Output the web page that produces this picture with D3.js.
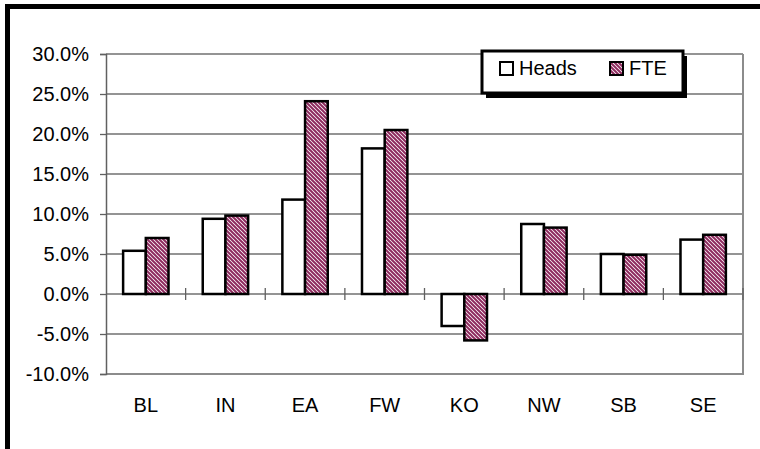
<!DOCTYPE html>
<html><head><meta charset="utf-8">
<script src="https://cdn.jsdelivr.net/npm/d3@7"></script>
<style>html,body{margin:0;padding:0;background:#fff;}svg{display:block;}</style>
</head><body>
<script>
const categories = ["BL","IN","EA","FW","KO","NW","SB","SE"];
const headsValues = [0.054, 0.094, 0.118, 0.182, -0.040, 0.0875, 0.050, 0.068];
const fteValues   = [0.070, 0.098, 0.241, 0.205, -0.058, 0.083, 0.049, 0.074];
const seriesNames = ["Heads","FTE"];
const yTickValues = [-0.10,-0.05,0,0.05,0.10,0.15,0.20,0.25,0.30];

const W = 760, H = 449;
const svg = d3.select("body").append("svg").attr("width", W).attr("height", H);
const font = "'Liberation Sans', Arial, sans-serif";

const defs = svg.append("defs");
const pat = defs.append("pattern").attr("id","hatch").attr("patternUnits","userSpaceOnUse")
  .attr("width",4).attr("height",4);
pat.append("rect").attr("width",4).attr("height",4).attr("fill","#fff");
pat.append("path").attr("d","M-1,-1 L5,5 M-1,3 L1,5 M3,-1 L5,1")
  .attr("stroke","#8e2a5e").attr("stroke-width",2);

const x = d3.scaleBand().domain(categories).range([106, 743]).padding(0);
const y = d3.scaleLinear().domain([-0.10, 0.30]).range([374, 54]);
const bw = x.bandwidth() * 0.285;

// gridlines
svg.append("g").selectAll("line").data(yTickValues).join("line")
  .attr("x1", 106).attr("x2", 743)
  .attr("y1", d => y(d)).attr("y2", d => y(d))
  .attr("stroke", "#707070").attr("stroke-width", 1.3);

// plot border right/bottom
svg.append("path").attr("d", `M${743},${y(0.30)} V${y(-0.10)} H106`)
  .attr("fill","none").attr("stroke","#8c8c8c").attr("stroke-width",2);

// y axis
const yAxis = d3.axisLeft(y).tickValues(yTickValues).tickSize(6).tickPadding(11)
  .tickFormat(d => (Math.round(d*1000)/10).toFixed(1) + "%");
const gy = svg.append("g").attr("transform","translate(106,0)").call(yAxis);
gy.select(".domain").attr("stroke","#606060").attr("stroke-width",1.5);
gy.selectAll(".tick line").attr("stroke","#606060").attr("stroke-width",1.3);
gy.selectAll("text").attr("font-family", font).attr("font-size", 20).attr("fill","#000");

// bars
const data = categories.map((c,i) => ({c, h: headsValues[i], f: fteValues[i]}));
const gb = svg.append("g");
data.forEach(d => {
  const cx = x(d.c) + x.bandwidth()/2;
  [[d.h, "#fff", cx - bw], [d.f, "url(#hatch)", cx]].forEach(([v, fill, x0]) => {
    gb.append("rect")
      .attr("x", x0).attr("width", bw)
      .attr("y", Math.min(y(v), y(0))).attr("height", Math.abs(y(v) - y(0)))
      .attr("fill", fill).attr("stroke", "#000").attr("stroke-width", 2.5);
  });
});

// x axis ticks (cross) on zero line
const boundaries = categories.map(c => x(c)).concat([x.range()[1]]);
svg.append("g").selectAll("line").data(boundaries.slice(1)).join("line")
  .attr("x1", d => d).attr("x2", d => d)
  .attr("y1", y(0) - 6).attr("y2", y(0) + 6)
  .attr("stroke","#606060").attr("stroke-width",1.3);

// category labels
svg.append("g").selectAll("text").data(categories).join("text")
  .attr("x", d => x(d) + x.bandwidth()/2).attr("y", 411.5)
  .attr("text-anchor","middle").attr("font-family", font).attr("font-size", 20)
  .text(d => d);

// legend
const lg = svg.append("g");
lg.append("rect").attr("x", 486).attr("y", 56).attr("width", 201).attr("height", 42).attr("fill","#000");
lg.append("rect").attr("x", 482).attr("y", 51).attr("width", 201).attr("height", 42)
  .attr("fill","#fff").attr("stroke","#000").attr("stroke-width",3);
const legX = [500, 610];
const legFill = ["#fff", "url(#hatch)"];
seriesNames.forEach((n,i) => {
  lg.append("rect").attr("x", legX[i]).attr("y", 62).attr("width", 13).attr("height", 13)
    .attr("fill", legFill[i]).attr("stroke","#000").attr("stroke-width",2);
  lg.append("text").attr("x", legX[i] + 19).attr("y", 75)
    .attr("font-family", font).attr("font-size", 20).text(n);
});

// outer frame (top and left thick black)
svg.append("line").attr("x1",5).attr("x2",760).attr("y1",6.5).attr("y2",6.5)
  .attr("stroke","#000").attr("stroke-width",5);
svg.append("line").attr("x1",7.5).attr("x2",7.5).attr("y1",4).attr("y2",449)
  .attr("stroke","#000").attr("stroke-width",5);
</script>
</body></html>
